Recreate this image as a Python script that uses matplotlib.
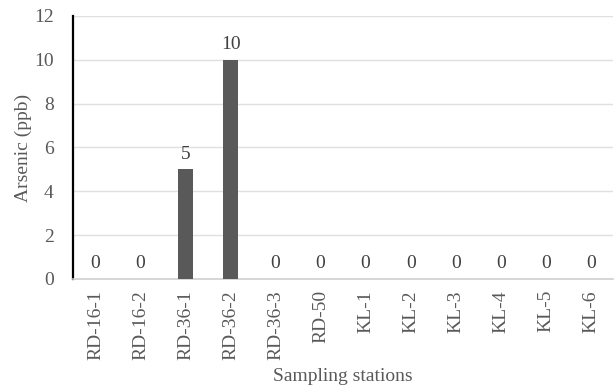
import matplotlib.pyplot as plt
import numpy as np

stations = ["RD-16-1", "RD-16-2", "RD-36-1", "RD-36-2", "RD-36-3", "RD-50",
            "KL-1", "KL-2", "KL-3", "KL-4", "KL-5", "KL-6"]
arsenic = [0, 0, 5, 10, 0, 0, 0, 0, 0, 0, 0, 0]

plt.rcParams['font.family'] = ['Liberation Serif', 'DejaVu Serif']

fig = plt.figure(figsize=(6.16, 3.88), dpi=100)
ax = fig.add_axes([0.1185, 0.281, 0.877, 0.678])

x = np.arange(len(stations))
bars = ax.bar(x, arsenic, width=0.34, color="#595959", zorder=3)
for xi, v in zip(x, arsenic):
    ax.text(xi, v + 0.3, str(v), ha="center", va="bottom",
            fontsize=14, color="#404040")

ax.set_xlim(-0.5, len(stations) - 0.5)
ax.set_ylim(0, 12)
ax.set_yticks(range(0, 13, 2))
ax.set_xticks(x)
ax.set_xticklabels(stations, rotation=90, fontsize=14, color="#595959")
ax.tick_params(axis="y", labelsize=14, labelcolor="#595959", length=0, pad=14)
ax.tick_params(axis="x", length=0, pad=8)

ax.yaxis.grid(True, color="#e0e0e0", linewidth=1, zorder=0)
ax.set_axisbelow(True)
for s in ["top", "right"]:
    ax.spines[s].set_visible(False)
ax.spines["left"].set_color("black")
ax.spines["left"].set_linewidth(1.6)
ax.spines["bottom"].set_color("#d0d0d0")
ax.spines["bottom"].set_linewidth(1.2)

ax.set_ylabel("Arsenic (ppb)", fontsize=14, color="#595959", labelpad=1)
ax.set_xlabel("Sampling stations", fontsize=14, color="#595959", labelpad=6)

fig.savefig("out.png", dpi=100)
